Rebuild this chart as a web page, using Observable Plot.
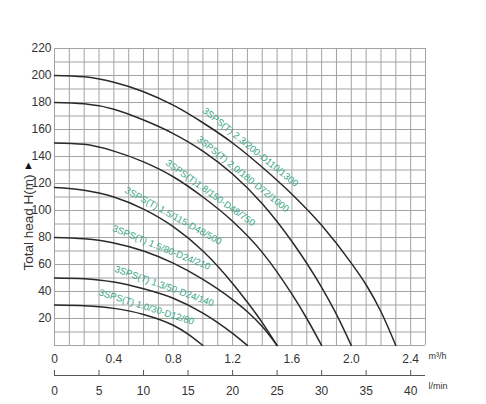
<!DOCTYPE html>
<html>
<head>
<meta charset="utf-8">
<script src="https://cdn.jsdelivr.net/npm/d3@7"></script>
<script src="https://cdn.jsdelivr.net/npm/@observablehq/plot@0.6"></script>
<style>
  body { margin: 0; background: #fff; font-family: "Liberation Sans", Arial, sans-serif; }
</style>
</head>
<body>
<div id="chart"></div>
<div id="chart2"></div>
<script>
// pump curves, flow in m3/h and head in m
const models = [
  "3SPS(T) 2.3/200-D110/1300",
  "3SPS(T) 2.0/180-D72/1000",
  "3SPS(T)1.8/150-D48/750",
  "3SPS(T) 1.5/115-D48/500",
  "3SPS(T) 1.5/80-D24/210",
  "3SPS(T) 1.3/50-D24/140",
  "3SPS(T) 1.0/30-D12/80"
];

const q200 = [0, 0.2, 0.4, 0.6, 0.8, 1.0, 1.2, 1.4, 1.6, 1.8, 2.0, 2.1, 2.2, 2.3];
const h200 = [200, 199, 195, 188, 178, 165, 150, 132, 112, 89, 61, 45, 25, 0];

const q180 = [0, 0.2, 0.4, 0.6, 0.8, 1.0, 1.2, 1.4, 1.6, 1.8, 1.9, 2.0];
const h180 = [180, 179, 175, 167, 157, 144, 127, 105, 77, 43, 23, 0];

const q150 = [0, 0.2, 0.4, 0.6, 0.8, 1.0, 1.2, 1.4, 1.6, 1.7, 1.8];
const h150 = [150, 149, 144, 136, 125, 110, 92, 69, 38, 20, 0];

const q115 = [0, 0.2, 0.4, 0.6, 0.8, 1.0, 1.2, 1.3, 1.4, 1.5];
const h115 = [117, 115, 110, 101, 88, 70, 46, 32, 17, 0];

const q80 = [0, 0.2, 0.4, 0.6, 0.8, 1.0, 1.2, 1.3, 1.4, 1.5];
const h80 = [80, 79, 76, 70, 61, 49, 34, 25, 14, 0];

const q50 = [0, 0.2, 0.4, 0.6, 0.8, 1.0, 1.1, 1.2, 1.3];
const h50 = [50, 49.5, 47, 42, 35, 24, 17, 9, 0];

const q30 = [0, 0.2, 0.4, 0.6, 0.8, 0.9, 1.0];
const h30 = [30, 29.5, 27.5, 23, 15, 8.5, 0];

// where each model name sits, just above its curve
const labelQ = [1.32, 1.27, 1.05, 0.80, 0.72, 0.74, 0.62];
const labelH = [147, 127, 113, 96, 72.5, 44, 28.5];
const labelAngle = [39, 39, 35.5, 29, 22, 19.6, 17.6];

// axis ticks
const flowTicks = [0, 0.4, 0.8, 1.2, 1.6, 2.0, 2.4];
const headTicks = [20, 40, 60, 80, 100, 120, 140, 160, 180, 200, 220];
const lminTicks = [0, 5, 10, 15, 20, 25, 30, 35, 40];

const flows = [q200, q180, q150, q115, q80, q50, q30];
const heads = [h200, h180, h150, h115, h80, h50, h30];

const curves = models.flatMap((m, i) =>
  flows[i].map((q, j) => ({model: m, q: q, h: heads[i][j]}))
);
const labels = models.map((m, i) => ({model: m, q: labelQ[i], h: labelH[i], a: labelAngle[i]}));

const gridQ = d3.ticks(0, 2.5, 25);
const gridH = d3.ticks(0, 220, 22);

const gridColor = "#a3a3a3";
const font = "'Liberation Sans', Arial, sans-serif";

let chart = Plot.plot({
  width: 486,
  height: 366,
  marginTop: 48,
  marginRight: 61,
  marginBottom: 21,
  marginLeft: 54,
  style: {fontFamily: font, fontSize: "12px", color: "#333", background: "#fff"},
  x: {
    domain: [0, 2.5],
    ticks: flowTicks,
    tickSize: 0,
    tickPadding: 9,
    tickFormat: d => d === 0 ? "0" : d.toFixed(1),
    label: null
  },
  y: {
    domain: [0, 220],
    ticks: headTicks,
    tickSize: 0,
    tickPadding: 3,
    label: null
  },
  marks: [
    Plot.ruleX(gridQ, {stroke: gridColor, strokeWidth: 1}),
    Plot.ruleY(gridH, {stroke: gridColor, strokeWidth: 1}),
    Plot.line(curves, {
      x: "q",
      y: "h",
      z: "model",
      stroke: "#2a2a2a",
      strokeWidth: 1.5,
      curve: "monotone-x"
    }),
    Plot.text(labels, {
      x: "q",
      y: "h",
      text: "model",
      rotate: d => d.a,
      fill: "#37a584",
      fontSize: 9.5
    }),
    Plot.text(["m³/h"], {
      frameAnchor: "bottom-right",
      dx: 3,
      dy: 13,
      textAnchor: "start",
      fontSize: 9,
      fill: "#333"
    }),
    Plot.text(["Total head H(m)"], {
      frameAnchor: "left",
      textAnchor: "middle",
      rotate: -90,
      dx: -26,
      dy: 25.5,
      fontSize: 13.5,
      fill: "#333"
    }),
    Plot.text(["▲"], {
      frameAnchor: "left",
      textAnchor: "middle",
      dx: -26,
      dy: -32,
      fontSize: 11,
      fill: "#111"
    })
  ]
});
d3.select("#chart").append(() => chart);

// second scale: the same flow in l/min
let chart2 = Plot.plot({
  width: 486,
  height: 38,
  marginTop: 4,
  marginRight: 61,
  marginBottom: 29,
  marginLeft: 54,
  style: {fontFamily: font, fontSize: "12px", color: "#333", background: "#fff"},
  x: {
    domain: [0, 2.5 * 1000 / 60],
    ticks: lminTicks,
    tickSize: 0,
    tickPadding: 11,
    label: null
  },
  y: {domain: [0, 1], axis: null},
  marks: [
    Plot.ruleY([0], {stroke: "#555"}),
    Plot.tickX(lminTicks, {x: d => d, stroke: "#555"}),
    Plot.text(["l/min"], {
      frameAnchor: "bottom-right",
      dx: 3,
      dy: 13,
      textAnchor: "start",
      fontSize: 9,
      fill: "#333"
    })
  ]
});
d3.select("#chart2").append(() => chart2);
</script>
</body>
</html>
